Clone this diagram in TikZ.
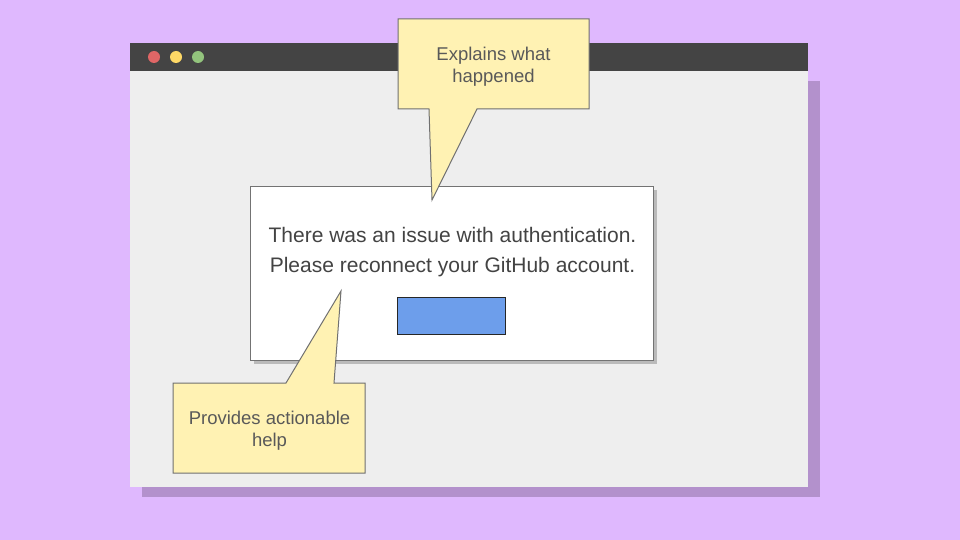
\documentclass[tikz,border=0pt]{standalone}
\usepackage{fontspec}
\setmainfont{Liberation Sans}
\definecolor{bgc}{HTML}{DFB8FE}
\definecolor{winshadow}{HTML}{B391CC}
\definecolor{winbar}{HTML}{444444}
\definecolor{winbody}{HTML}{EEEEEE}
\definecolor{dred}{HTML}{E06666}
\definecolor{dyel}{HTML}{FFD966}
\definecolor{dgrn}{HTML}{93C47D}
\definecolor{callfill}{HTML}{FFF2B3}
\definecolor{callline}{HTML}{707070}
\definecolor{btnfill}{HTML}{6D9EEB}
\definecolor{txt}{HTML}{434343}
\definecolor{calltxt}{HTML}{595959}
\tikzset{
  calloutshape/.style={fill=callfill, draw=callline, line width=1pt, line join=miter},
  calltext/.style={text=calltxt, font=\fontsize{18.5}{22}\selectfont, align=center},
  dot/.style={circle, inner sep=0pt, minimum size=12pt},
}
\begin{document}
\begin{tikzpicture}[x=1pt,y=-1pt]
\useasboundingbox (0,0) rectangle (960,540);
\fill[bgc] (0,0) rectangle (960,540);
% window
\fill[winshadow] (142,81) rectangle (820,497);
\fill[winbody] (130,71) rectangle (808,487);
\fill[winbar] (130,43) rectangle (808,71.5);
\node[dot, fill=dred] (d1) at (154,57) {};
\node[dot, fill=dyel] (d2) at (176,57) {};
\node[dot, fill=dgrn] (d3) at (198,57) {};
% dialog
\fill[black!27] (254,190) rectangle (657,364);
\node[draw=black!55, fill=white, line width=0.9pt, minimum width=403pt, minimum height=174pt, inner sep=0pt, anchor=north west] (dlg) at (250,186) {};
\node[text=txt, font=\fontsize{21}{30}\selectfont, align=center] (msg) at (452.5,252) {There was an issue with authentication.\\Please reconnect your GitHub account.};
\node[draw=black!85, fill=btnfill, line width=0.8pt, minimum width=108pt, minimum height=37pt, inner sep=0pt, anchor=north west] (btn) at (397,297) {};
% callout 1
\draw[calloutshape] (398,19) -- (589,19) -- (589,109) -- (477,109) -- (432,200) -- (429,109) -- (398,109) -- cycle;
\node[calltext] (c1) at (493.5,67) {Explains what\\happened};
% callout 2
\draw[calloutshape] (173,383) -- (286,383) -- (341,291) -- (334,383) -- (365,383) -- (365,473) -- (173,473) -- cycle;
\node[calltext] (c2) at (269.5,431) {Provides actionable\\help};
\end{tikzpicture}
\end{document}
